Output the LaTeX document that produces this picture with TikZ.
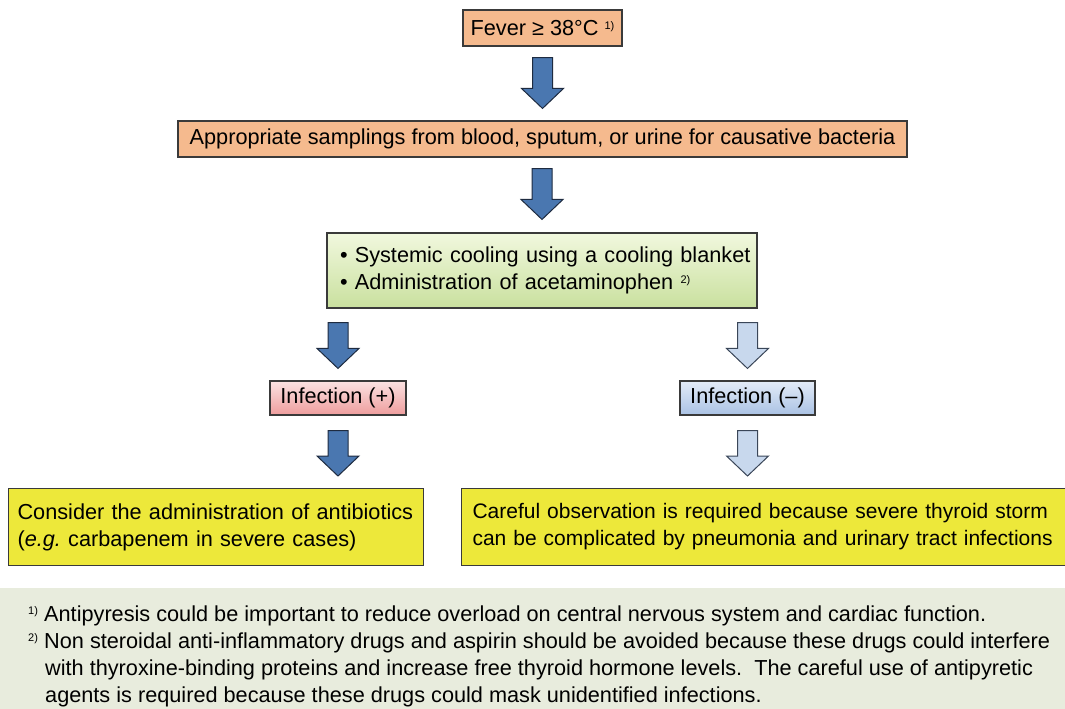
\documentclass[tikz,border=0pt]{standalone}
\usepackage{fontspec}
\setmainfont{Liberation Sans}
\usetikzlibrary{calc}
\frenchspacing
\definecolor{orangebox}{HTML}{F5BA8E}
\definecolor{boxline}{HTML}{3A3A3A}
\definecolor{darkarrow}{HTML}{4A77B0}
\definecolor{darkarrowline}{HTML}{1E2B40}
\definecolor{lightarrow}{HTML}{C8D8ED}
\definecolor{lightarrowline}{HTML}{3A4658}
\definecolor{greentop}{HTML}{F1F8DE}
\definecolor{greenbot}{HTML}{C9E09E}
\definecolor{pinktop}{HTML}{FBE2E2}
\definecolor{pinkbot}{HTML}{EE9D9D}
\definecolor{bluetop}{HTML}{E3EBF7}
\definecolor{bluebot}{HTML}{AAC2E4}
\definecolor{yellowbox}{HTML}{EDE83A}
\definecolor{notebg}{HTML}{E8ECDD}
\newcommand\mainfs{\fontsize{21.7}{27}\selectfont}
\newcommand\supmark[1]{\makebox[16pt][l]{\raisebox{7pt}{\fontsize{11}{11}\selectfont #1}}}
\newcommand\fatarrow[3]{%
  \draw[#1] let \p1=(#2), \p2=(#3) in
  (\x2-10pt,\y1) -- (\x2+10pt,\y1) -- (\x2+10pt,\y2+20pt) -- (\x2+21pt,\y2+20pt)
  -- (\x2,\y2) -- (\x2-21pt,\y2+20pt) -- (\x2-10pt,\y2+20pt) -- cycle;}
\begin{document}
\begin{tikzpicture}[x=1pt,y=-1pt,
  every node/.style={font=\mainfs, text=black},
  obox/.style={draw=boxline, line width=1.1pt, fill=orangebox, inner sep=0pt},
  gbox/.style={draw=boxline, line width=1.1pt, top color=greentop, bottom color=greenbot, inner sep=0pt},
  pbox/.style={draw=boxline, line width=1.1pt, top color=pinktop, bottom color=pinkbot, inner sep=0pt},
  bbox/.style={draw=boxline, line width=1.1pt, top color=bluetop, bottom color=bluebot, inner sep=0pt},
  ybox/.style={draw=boxline, line width=1.1pt, fill=yellowbox, inner ysep=0pt, align=left},
  darrow/.style={fill=darkarrow, draw=darkarrowline, line width=1pt, line join=miter},
  larrow/.style={fill=lightarrow, draw=lightarrowline, line width=1pt, line join=miter}]
\useasboundingbox (0,0) rectangle (1065,709);
% footnote background
\fill[notebg] (0,588) rectangle (1065,709);

\node[obox, minimum width=159pt, minimum height=36pt] (fever) at (542.5,28)
  {Fever ≥ 38°C \raisebox{6pt}{\fontsize{11}{11}\selectfont 1)}};
\node[obox, minimum width=729pt, minimum height=36pt] (samp) at (542.5,139)
  {Appropriate samplings from blood, sputum, or urine for causative bacteria};
\node[gbox, minimum width=430pt, minimum height=75pt, text width=404pt, align=left] (cool) at (542,270.5)
  {\mbox{• Systemic cooling using a cooling blanket}\\ \mbox{• Administration of acetaminophen \raisebox{6pt}{\fontsize{11}{11}\selectfont 2)}}};
\node[pbox, minimum width=136pt, minimum height=34pt] (infp) at (338,398) {Infection (+)};
\node[bbox, minimum width=135pt, minimum height=34pt] (infn) at (747.5,398) {Infection (–)};
\node[ybox, anchor=north west, inner xsep=9pt, text width=397pt, minimum height=77pt] (yl) at (8,488)
  {\mbox{Consider the administration of antibiotics}\\\mbox{(\textit{e.g.} carbapenem in severe cases)}};
\node[ybox, anchor=north west, inner xsep=11pt, text width=587pt, minimum height=77pt,
  font=\fontsize{21}{27}\selectfont] (yr) at (461,488)
  {\mbox{Careful observation is required because severe thyroid storm}\\\mbox{can be complicated by pneumonia and urinary tract infections}};

\node[anchor=north west, align=left, inner sep=0pt, font=\mainfs] (notes) at (28,606)
  {\supmark{1)}Antipyresis could be important to reduce overload on central nervous system and cardiac function.\\
   \supmark{2)}Non steroidal anti-inflammatory drugs and aspirin should be avoided because these drugs could interfere\\
   \hspace*{17pt}with thyroxine-binding proteins and increase free thyroid hormone levels.\ \ The careful use of antipyretic\\
   \hspace*{17pt}agents is required because these drugs could mask unidentified infections.};

% block arrows
\fatarrow{darrow}{$(fever.south)+(0,11)$}{$(samp.north)+(0,-12)$}
\fatarrow{darrow}{$(samp.south)+(0,11)$}{$(cool.north)+(0,-13)$}
\fatarrow{darrow}{$(cool.south)+(0,14)$}{$(infp.north)+(0,-12)$}
\fatarrow{larrow}{$(cool.south)+(0,14)$}{$(infn.north)+(0,-12)$}
\fatarrow{darrow}{$(infp.south)+(0,15)$}{$(yl.north -| infp.south)+(0,-12)$}
\fatarrow{larrow}{$(infn.south)+(0,15)$}{$(yr.north -| infn.south)+(0,-12)$}
\end{tikzpicture}
\end{document}
